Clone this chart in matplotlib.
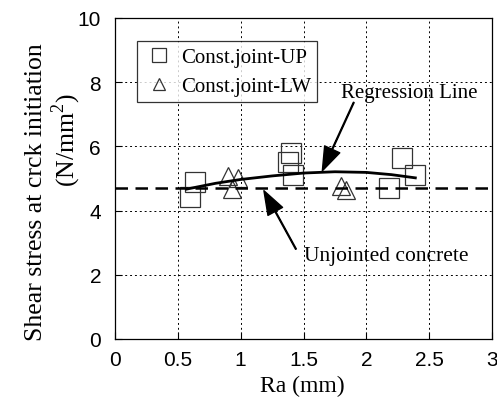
import matplotlib
matplotlib.use("Agg")
import matplotlib.pyplot as plt

up_x = [0.64, 0.60, 1.40, 1.38, 1.42, 2.28, 2.39, 2.18]
up_y = [4.88, 4.41, 5.78, 5.50, 5.12, 5.63, 5.11, 4.69]
lw_x = [0.90, 0.98, 0.93, 1.80, 1.84]
lw_y = [5.09, 5.03, 4.67, 4.78, 4.65]
reg_x = [0.57, 0.80, 1.00, 1.25, 1.50, 1.75, 2.00, 2.20, 2.39]
reg_y = [4.67, 4.85, 4.97, 5.08, 5.17, 5.21, 5.19, 5.12, 5.02]
unjointed = 4.70
xticks = [0, 0.5, 1, 1.5, 2, 2.5, 3]
yticks = [0, 2, 4, 6, 8, 10]

serif = ["Liberation Serif", "DejaVu Serif"]
sans = ["Liberation Sans", "DejaVu Sans"]
plt.rcParams["mathtext.fontset"] = "custom"
plt.rcParams["mathtext.rm"] = "Liberation Serif"

fig = plt.figure(figsize=(4.97, 4.06), dpi=100)
ax = fig.add_axes([115/497, 1-340/406, (492-115)/497, (340-19)/406])

ax.plot(up_x, up_y, ls="none", marker="s", ms=14, mfc="none", mec="#333", mew=0.9,
        label="Const.joint-UP")
ax.plot(lw_x, lw_y, ls="none", marker="^", ms=13, mfc="none", mec="#333", mew=0.9,
        label="Const.joint-LW")
ax.plot(reg_x, reg_y, color="black", lw=2)
ax.axhline(unjointed, color="black", lw=1.8, ls=(0, (5, 3)))

ax.set_xlim(0, 3)
ax.set_ylim(0, 10)
ax.set_xticks(xticks)
ax.set_xticklabels([f"{t:g}" for t in xticks], family=sans, fontsize=15)
ax.set_yticks(yticks)
ax.set_yticklabels([f"{t:g}" for t in yticks], family=sans, fontsize=15)
ax.tick_params(direction="in", length=5, width=0.8, top=False, right=False)
ax.tick_params(axis="x", pad=8)
ax.tick_params(axis="y", pad=10)
ax.grid(True, color="black", ls=(0, (2, 3)), lw=0.7)
for s in ax.spines.values():
    s.set_linewidth(0.9)

fig.text(302/497, 1-386/406, "Ra (mm)", family=serif, fontsize=17,
         ha="center", va="center")
fig.text(36/497, 1-192/406, "Shear stress at crck initiation", family=serif, fontsize=18.5,
         rotation=90, ha="center", va="center")
fig.text(66/497, 1-140/406, r"(N/mm$^\mathrm{2}$)", family=serif, fontsize=18.5,
         rotation=90, ha="center", va="center")

leg = ax.legend(loc="upper left", bbox_to_anchor=((137-115)/377, 1-(42-19)/321),
                prop={"family": serif, "size": 15}, frameon=True, fancybox=False,
                edgecolor="black", markerscale=0.7, handlelength=1.5,
                handletextpad=0.3, borderpad=0.3, labelspacing=0.45,
                borderaxespad=0)
leg.get_frame().set_linewidth(0.9)

arrowprops = dict(facecolor="black", edgecolor="black", width=0.6, headwidth=12,
                  headlength=17, shrink=0)
ax.annotate("", xy=(1.65, 5.24), xytext=(1.90, 7.37), arrowprops=arrowprops)
ax.text(1.80, 7.67, "Regression Line", family=serif, fontsize=15, ha="left", va="center")
ax.annotate("", xy=(1.185, 4.62), xytext=(1.44, 2.80), arrowprops=arrowprops)
ax.text(1.50, 2.60, "Unjointed concrete", family=serif, fontsize=15.5, ha="left", va="center")

fig.savefig("out.png", dpi=100)
